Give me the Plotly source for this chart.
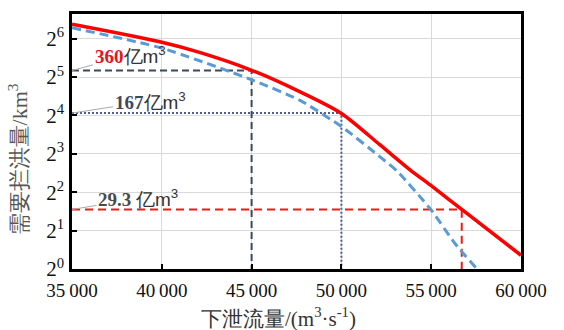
import math
import plotly.graph_objects as go

# ---- data ----
red_flow = [35000, 40000, 42100, 45000, 47700, 50000, 52150, 53820, 55000, 56700, 60000]
red_vol = [83, 60, 50, 36.2, 24.5, 16.6, 9.4, 6.0, 4.5, 2.93, 1.28]

blue_flow = [35000, 40000, 45000, 47700, 50000, 52240, 53080, 55000, 56300, 57550]
blue_vol = [78, 54, 30.5, 21, 13.1, 7.4, 5.9, 2.9, 1.6, 1.0]

ref_flow = [45000, 50000, 56700]
ref_vol = [36.0, 16.7, 2.93]
ref_label = ["360", "167", "29.3"]

x_ticks = [35000, 40000, 45000, 50000, 55000, 60000]
x_ticktext = ["35\u2009000", "40\u2009000", "45\u2009000", "50\u2009000", "55\u2009000", "60\u2009000"]
y_exps = [0, 1, 2, 3, 4, 5, 6]

x_min, y_min = 35000, 1

SERIF = "Liberation Serif"

fig = go.Figure()

ref_styles = [
    dict(color="#3f4859", width=2, dash="7px,4px"),
    dict(color="#4a5f8f", width=2, dash="2px,2px"),
    dict(color="#f01818", width=2, dash="8px,5px"),
]
for f, v, st in zip(ref_flow, ref_vol, ref_styles):
    fig.add_trace(go.Scatter(x=[x_min, f, f], y=[v, v, y_min], mode="lines",
                             line=st, hoverinfo="skip", showlegend=False))

fig.add_trace(go.Scatter(x=blue_flow, y=blue_vol, mode="lines",
                         line=dict(color="#5b9bd5", width=3, dash="9px,5px", shape="spline", smoothing=0.6),
                         showlegend=False))
fig.add_trace(go.Scatter(x=red_flow, y=red_vol, mode="lines",
                         line=dict(color="#ff0000", width=3.5, shape="spline", smoothing=0.8),
                         showlegend=False))

label_colors = ["#e8141c", "#3d4a5c", "#4a4a4a"]
label_offsets = [(58, -16), (78, -12), (66, -11)]
seps = ["", "", " "]
for v, lab, col, (ax, ay), sep in zip(ref_vol, ref_label, label_colors, label_offsets, seps):
    txt = (f'<b><span style="color:{col}">{lab}</span></b>{sep}'
           f'<span style="font-family:Liberation Sans;color:#333">亿m<sup>3</sup></span>')
    fig.add_annotation(x=0, y=math.log10(v), xref="paper", yref="y", text=txt,
                       showarrow=True, arrowhead=0, arrowwidth=1, arrowcolor="#aaaaaa",
                       ax=ax, ay=ay, xanchor="center", yanchor="middle",
                       font=dict(family=SERIF, size=19, color="#333"))

# axis titles
fig.add_annotation(text="需要拦洪量/km<sup>3</sup>", xref="paper", yref="paper",
                   x=-0.12, y=0.43, textangle=-90, showarrow=False,
                   xanchor="center", yanchor="middle",
                   font=dict(family=SERIF, size=22, color="#555555"))
fig.add_annotation(text="下泄流量/(m<sup>3</sup>·s<sup>-1</sup>)", xref="paper", yref="paper",
                   x=0.459, y=-0.19, showarrow=False, xanchor="center", yanchor="middle",
                   font=dict(family=SERIF, size=21, color="#333"))

fig.update_layout(
    width=564, height=330,
    margin=dict(l=72, r=43, t=11, b=61),
    paper_bgcolor="white", plot_bgcolor="white",
    showlegend=False,
    font=dict(family=SERIF, color="#111"),
)
fig.update_xaxes(range=[35000, 60000], tickvals=x_ticks, ticktext=x_ticktext,
                 showgrid=True, gridcolor="#d9d9d9", gridwidth=1,
                 showline=True, linecolor="black", linewidth=2.5, mirror=True,
                 ticks="inside", ticklen=5, tickwidth=1.5, tickcolor="black",
                 ticklabelstandoff=2,
                 tickfont=dict(family=SERIF, size=19, color="#111"),
                 zeroline=False)
fig.update_yaxes(type="log", range=[0, 2],
                 tickvals=[2 ** e for e in y_exps],
                 ticktext=[f"2<sup>{e}</sup>" for e in y_exps],
                 showgrid=True, gridcolor="#d9d9d9", gridwidth=1,
                 showline=True, linecolor="black", linewidth=2.5, mirror=True,
                 ticks="inside", ticklen=5, tickwidth=1.5, tickcolor="black",
                 ticklabelstandoff=1,
                 tickfont=dict(family=SERIF, size=21, color="#111"),
                 zeroline=False)

fig.write_html("out.html")
